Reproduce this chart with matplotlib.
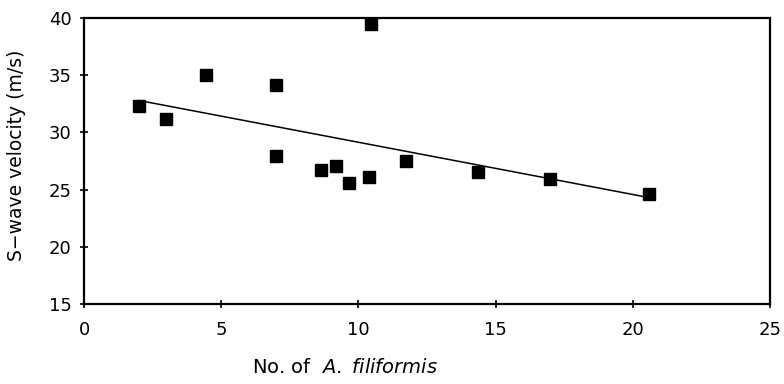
import numpy as np
import matplotlib
matplotlib.use("Agg")
import matplotlib.pyplot as plt

plt.rcParams['font.family'] = ['DejaVu Sans']
plt.rcParams['mathtext.fontset'] = 'dejavusans'

n_filiformis = [2.0, 3.0, 4.45, 7.0, 7.0, 8.65, 9.2, 9.65, 10.4, 10.45, 11.75, 14.35, 17.0, 20.6]
s_velocity = [32.3, 31.2, 35.0, 34.1, 27.9, 26.7, 27.1, 25.6, 26.1, 39.5, 27.5, 26.5, 25.9, 24.6]
x_ticks = [0, 5, 10, 15, 20, 25]
y_ticks = [15, 20, 25, 30, 35, 40]

fig = plt.figure(figsize=(7.84, 3.84), dpi=100)
ax = fig.add_axes([84/784, 1-304/384, (770-84)/784, (304-18)/384])

x = np.array(n_filiformis)
y = np.array(s_velocity)
slope, intercept = np.polyfit(x, y, 1)
xl = np.array([x.min(), x.max()])
ax.plot(xl, slope*xl + intercept, color='black', lw=1.1, zorder=2)
ax.plot(x, y, 's', color='black', markersize=8.5, zorder=3, clip_on=False)

ax.set_xlim(0, 25)
ax.set_ylim(15, 40)
ax.set_xticks(x_ticks)
ax.set_yticks(y_ticks)
for s in ax.spines.values():
    s.set_linewidth(1.6)
ax.tick_params(direction='inout', length=6, width=1.2, labelsize=13)
ax.tick_params(axis='x', pad=9)
ax.tick_params(axis='y', pad=6)
ax.set_ylabel('S\u2212wave velocity (m/s)', fontsize=13.5)
ax.yaxis.set_label_coords(-0.084, 0.52)
ax.set_xlabel(r'No. of  $\mathit{A.\ filiformis}$', fontsize=14)
ax.xaxis.set_label_coords(0.38, -0.19)

fig.savefig('out.png', dpi=100)
